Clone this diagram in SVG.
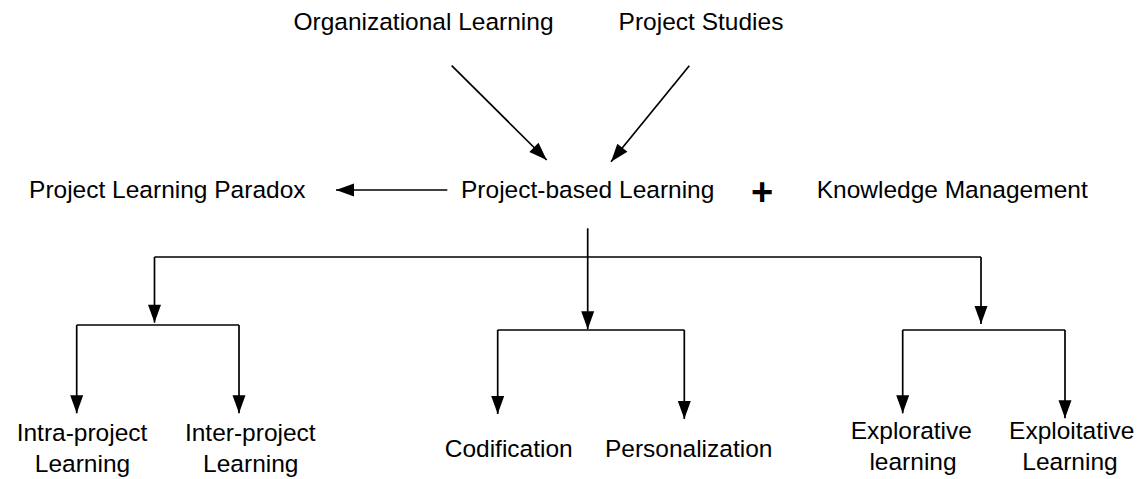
<svg xmlns="http://www.w3.org/2000/svg" width="1144" height="479" viewBox="0 0 1144 479">
<style>
  text { font-family: "Liberation Sans", Arial, sans-serif; font-size: 24.5px; fill: #000; text-anchor: middle; }
  .plus { font-weight: bold; font-size: 38px; }
  .c { fill: none; stroke: #000; stroke-width: 1.7; stroke-linecap: butt; }
  .a { marker-end: url(#ah); }
</style>
<defs>
  <marker id="ah" markerUnits="userSpaceOnUse" markerWidth="18" markerHeight="14" refX="18" refY="6.5" orient="auto" overflow="visible">
    <path d="M0,0 L18,6.5 L0,13 Z" fill="#000"/>
  </marker>
</defs>
<rect width="1144" height="479" fill="#fff"/>
<g id="n-org"><text x="423.5" y="29.5">Organizational Learning</text></g>
<g id="n-ps"><text x="701" y="29.5">Project Studies</text></g>
<g id="n-paradox"><text x="167.3" y="198.3">Project Learning Paradox</text></g>
<g id="n-pbl"><text x="587.7" y="198.3">Project-based Learning</text></g>
<g id="n-plus"><text class="plus" x="762" y="205">+</text></g>
<g id="n-km"><text x="952.2" y="198.3">Knowledge Management</text></g>
<g id="n-intra"><text x="82" y="440.5">Intra-project</text><text x="82.5" y="472">Learning</text></g>
<g id="n-inter"><text x="250.3" y="440.5">Inter-project</text><text x="250.8" y="472">Learning</text></g>
<g id="n-cod"><text x="508.7" y="456.7">Codification</text></g>
<g id="n-pers"><text x="688.7" y="456.7">Personalization</text></g>
<g id="n-explor"><text x="911.3" y="438.5">Explorative</text><text x="913" y="470">learning</text></g>
<g id="n-exploit"><text x="1071.7" y="438.5">Exploitative</text><text x="1070" y="470">Learning</text></g>
<g id="connectors">
  <line class="c a" x1="451.7" y1="65.7" x2="546.7" y2="160"/>
  <line class="c a" x1="689.3" y1="65.7" x2="611" y2="161.7"/>
  <line class="c a" x1="447.3" y1="190" x2="336" y2="190"/>
  <line class="c" x1="587.7" y1="228.3" x2="587.7" y2="257"/>
  <line class="c" x1="154.5" y1="257" x2="981" y2="257"/>
  <line class="c a" x1="154.5" y1="257" x2="154.5" y2="322.7"/>
  <line class="c a" x1="587.7" y1="257" x2="587.7" y2="329.3"/>
  <line class="c a" x1="981" y1="257" x2="981" y2="324"/>
  <line class="c" x1="76.7" y1="325" x2="239" y2="325"/>
  <line class="c a" x1="76.7" y1="325" x2="76.7" y2="413.3"/>
  <line class="c a" x1="239" y1="325" x2="239" y2="413.3"/>
  <line class="c" x1="497.7" y1="330" x2="684.3" y2="330"/>
  <line class="c a" x1="497.7" y1="330" x2="497.7" y2="414"/>
  <line class="c a" x1="684.3" y1="330" x2="684.3" y2="419"/>
  <line class="c" x1="902.7" y1="330" x2="1065" y2="330"/>
  <line class="c a" x1="902.7" y1="330" x2="902.7" y2="413.3"/>
  <line class="c a" x1="1065" y1="330" x2="1065" y2="418.3"/>
</g>
</svg>
